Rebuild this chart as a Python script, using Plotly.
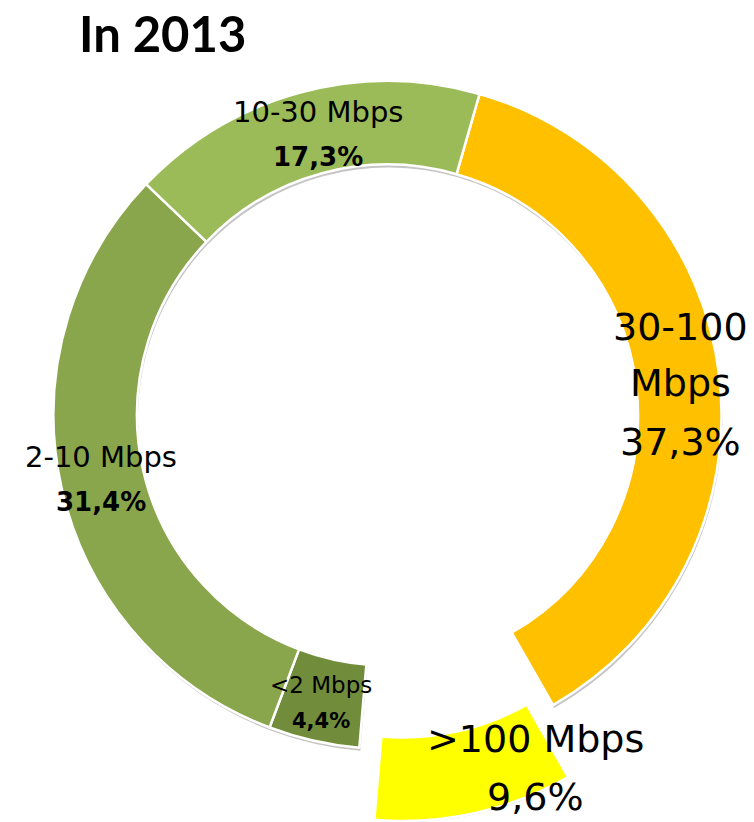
import plotly.graph_objects as go

# ---- data ----
labels = ["30-100 Mbps", ">100 Mbps", "<2 Mbps", "2-10 Mbps", "10-30 Mbps"]
values = [37.3, 9.6, 4.4, 31.4, 17.3]
colors = ["#FFC000", "#FFFF00", "#718D3C", "#8AA64C", "#9BBB59"]
title_text = "In 2013"

# ---- geometry (page pixels) ----
W, H = 754, 822
cx, cy, R = 387.5, 415, 334
pull_dx, pull_dy = 15, 72
exploded = 1
ROT = 16
HOLE = 0.75
LABEL_FONT = "DejaVu Sans"
TITLE_FONT = "Lato"


def px_x(X):
    return X / W


def px_y(Y):
    return 1 - Y / H


def dom(cxp, cyp, r):
    return dict(x=[max(0, px_x(cxp - r)), min(1, px_x(cxp + r))],
                y=[max(0, px_y(cyp + r)), min(1, px_y(cyp - r))])


n = len(values)
clear = "rgba(0,0,0,0)"
common = dict(labels=labels, values=values, hole=HOLE, sort=False,
              direction="clockwise", rotation=ROT, textinfo="none",
              showlegend=False)

fig = go.Figure()
# soft drop shadows
shadow = "rgba(150,150,150,0.55)"
fig.add_trace(go.Pie(**common, domain=dom(cx + 1, cy + 3, R), hoverinfo="skip",
                     marker=dict(colors=[shadow if i != exploded else clear for i in range(n)],
                                 line=dict(width=0))))
fig.add_trace(go.Pie(**common, domain=dom(cx + pull_dx + 1, cy + pull_dy + 2, R), hoverinfo="skip",
                     marker=dict(colors=[shadow if i == exploded else clear for i in range(n)],
                                 line=dict(width=0))))
# ring
fig.add_trace(go.Pie(**common, domain=dom(cx, cy, R), hoverinfo="label+percent",
                     marker=dict(colors=[c if i != exploded else clear for i, c in enumerate(colors)],
                                 line=dict(color=["white" if i != exploded else clear for i in range(n)],
                                           width=2.5))))
# exploded slice
fig.add_trace(go.Pie(**common, domain=dom(cx + pull_dx, cy + pull_dy, R), hoverinfo="label+percent",
                     marker=dict(colors=[c if i == exploded else clear for i, c in enumerate(colors)],
                                 line=dict(color=["white" if i == exploded else clear for i in range(n)],
                                           width=2.5))))


def pct(v):
    return f"{v:.1f}".replace(".", ",") + "%"


# label placement: centre x, baselines of each line, name size, pct size, bold pct, wrap name
label_style = {
    "30-100 Mbps": dict(x=680, base=[340, 396, 455], fs=38, pfs=38, bold=False, wrap=True),
    ">100 Mbps": dict(x=535, base=[752, 810], fs=38, pfs=38, bold=False, wrap=False),
    "<2 Mbps": dict(x=321, base=[693, 728], fs=23, pfs=21, bold=True, wrap=False),
    "2-10 Mbps": dict(x=101, base=[467, 511], fs=29, pfs=26, bold=True, wrap=False),
    "10-30 Mbps": dict(x=318, base=[122, 166], fs=29, pfs=26, bold=True, wrap=False),
}

annotations = []
for lab, v in zip(labels, values):
    s = label_style[lab]
    name_lines = lab.split(" ") if s["wrap"] else [lab]
    lines = [(t, s["fs"], False) for t in name_lines] + [(pct(v), s["pfs"], s["bold"])]
    for (t, fs, b), base in zip(lines, s["base"]):
        annotations.append(dict(text=f"<b>{t}</b>" if b else t,
                                x=px_x(s["x"]), y=px_y(base - 0.35 * fs),
                                xref="paper", yref="paper", showarrow=False,
                                xanchor="center", yanchor="middle",
                                font=dict(family=LABEL_FONT, size=fs, color="black")))

annotations.append(dict(text=f"<b>{title_text}</b>", x=px_x(77), y=px_y(51 - 0.37 * 49),
                        xref="paper", yref="paper", showarrow=False,
                        xanchor="left", yanchor="middle",
                        font=dict(family=TITLE_FONT, size=49, color="black")))

fig.update_layout(width=W, height=H, margin=dict(l=0, r=0, t=0, b=0),
                  paper_bgcolor="white", plot_bgcolor="white",
                  annotations=annotations)

fig.write_html("out.html", config={"displayModeBar": False},
               post_script="document.body.style.margin='0';")
